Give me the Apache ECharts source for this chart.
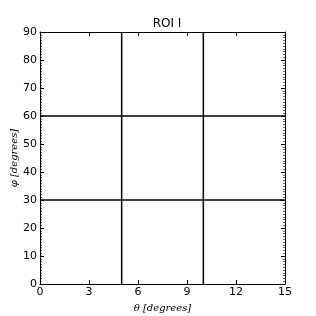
<!DOCTYPE html>
<html><head><meta charset="utf-8">
<script src="https://cdn.jsdelivr.net/npm/echarts@6/dist/echarts.min.js"></script>
<style>html,body{margin:0;padding:0;background:#fff}#c{width:316px;height:316px}</style>
</head><body><div id="c"></div>
<script>
var titleText = 'ROI I';
var xLabel = 'θ [degrees]';
var yLabel = 'φ [degrees]';
var xRange = [0, 15];
var yRange = [0, 90];
var xTickStep = 3;
var yTickStep = 10;
var verticalLines = [5, 10];
var horizontalLines = [30, 60];

var chart = echarts.init(document.getElementById('c'), null, {renderer: 'canvas'});
var font = 'DejaVu Sans';
function xAxisCfg(pos, labels) {
  return {
    type: 'value', position: pos, min: xRange[0], max: xRange[1], interval: xTickStep,
    axisLine: {show: true, onZero: false, lineStyle: {color: '#000', width: 1}},
    axisTick: {show: true, inside: true, length: 4, lineStyle: {color: '#000'}},
    axisLabel: {show: labels, color: '#000', fontFamily: font, fontSize: 11, margin: 3},
    splitLine: {show: false},
    name: labels ? xLabel : '', nameLocation: 'middle', nameGap: 19,
    nameTextStyle: {fontFamily: 'DejaVu Serif', fontStyle: 'italic', fontSize: 10, color: '#000'}
  };
}
function yAxisCfg(pos, labels) {
  return {
    type: 'value', position: pos, min: yRange[0], max: yRange[1], interval: yTickStep,
    axisLine: {show: true, onZero: false, lineStyle: {color: '#000', width: 1}},
    axisTick: {show: true, inside: true, length: 4, lineStyle: {color: '#000'}},
    minorTick: {show: true, splitNumber: 10, length: 2, lineStyle: {color: '#000', width: 0.6}},
    axisLabel: {show: labels, color: '#000', fontFamily: font, fontSize: 11, margin: 3},
    splitLine: {show: false},
    name: labels ? yLabel : '', nameLocation: 'middle', nameGap: 21, nameRotate: 90,
    nameMoveOverlap: false,
    nameTextStyle: {fontFamily: 'DejaVu Serif', fontStyle: 'italic', fontSize: 10, color: '#000'}
  };
}
var series = [];
verticalLines.forEach(function (v) {
  series.push({type: 'line', xAxisIndex: 0, yAxisIndex: 0, symbol: 'none', silent: true,
    lineStyle: {color: '#000', width: 1.5}, data: [[v, yRange[0]], [v, yRange[1]]]});
});
horizontalLines.forEach(function (h) {
  series.push({type: 'line', xAxisIndex: 0, yAxisIndex: 0, symbol: 'none', silent: true,
    lineStyle: {color: '#000', width: 1.5}, data: [[xRange[0], h], [xRange[1], h]]});
});
chart.setOption({
  animation: false,
  backgroundColor: '#fff',
  title: {text: titleText, left: 162, top: 13, textAlign: 'center',
    textStyle: {fontFamily: font, fontSize: 12, fontWeight: 'normal', color: '#000'}},
  grid: {left: 40, right: 31, top: 32, bottom: 32, containLabel: false, outerBoundsMode: 'none'},
  xAxis: [xAxisCfg('bottom', true), xAxisCfg('top', false)],
  yAxis: [yAxisCfg('left', true), yAxisCfg('right', false)],
  series: series
});
</script></body></html>
